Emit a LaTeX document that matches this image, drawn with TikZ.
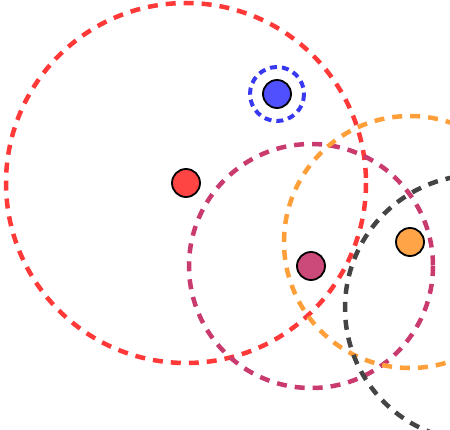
\documentclass[tikz,border=0pt]{standalone}
\usetikzlibrary{positioning}

\definecolor{dotred}{HTML}{FF4444}
\definecolor{ringred}{HTML}{FF3838}
\definecolor{dotblue}{HTML}{5050FF}
\definecolor{ringblue}{HTML}{3838F0}
\definecolor{dotpink}{HTML}{CC4A7A}
\definecolor{ringpink}{HTML}{C93A6E}
\definecolor{dotorange}{HTML}{FFA548}
\definecolor{ringorange}{HTML}{FF9F3A}
\definecolor{ringgray}{HTML}{444444}

\tikzset{
  dot/.style={circle,draw=black,line width=1.8pt,minimum size=28pt,inner sep=0pt},
  ring/.style={line width=4.5pt,dash pattern=on 10pt off 8pt}
}

\begin{document}
\begin{tikzpicture}[x=1pt,y=-1pt]
  \clip (0,0) rectangle (450,430);
  \coordinate (redc) at (186,183);
  \coordinate (bluec) at (277,94);
  \coordinate (pinkc) at (311,266);
  \coordinate (orangec) at (410,242);
  \coordinate (grayc) at (478,308);
  % rings
  \draw[ring,ringred] (redc) circle[radius=180];
  \draw[ring,ringpink] (pinkc) circle[radius=122];
  \draw[ring,ringorange] (orangec) circle[radius=126];
  \draw[ring,ringgray] (grayc) circle[radius=133];
  \draw[ring,ringblue,line width=4pt,dash pattern=on 7pt off 5pt] (bluec) circle[radius=27];
  % dots
  \node[dot,fill=dotred] (reddot) at (redc) {};
  \node[dot,fill=dotblue] (bluedot) at (bluec) {};
  \node[dot,fill=dotpink] (pinkdot) at (pinkc) {};
  \node[dot,fill=dotorange] (orangedot) at (orangec) {};
\end{tikzpicture}
\end{document}
